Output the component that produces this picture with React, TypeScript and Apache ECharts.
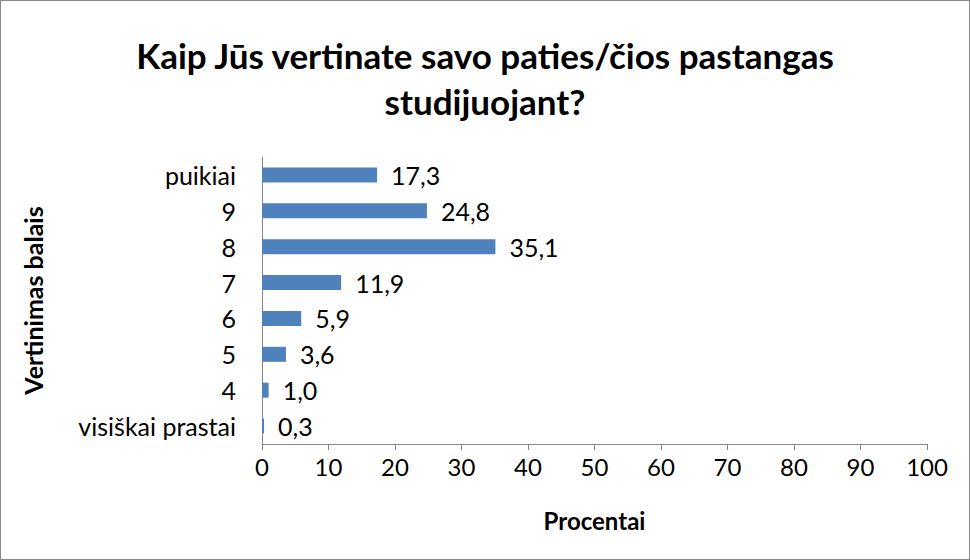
import React, { useEffect, useRef } from "react";
import * as echarts from "echarts";

const categories = ["visiškai prastai", "4", "5", "6", "7", "8", "9", "puikiai"];
const values = [0.3, 1.0, 3.6, 5.9, 11.9, 35.1, 24.8, 17.3];
const xTicks = { min: 0, max: 100, interval: 10 };

const FONT = "Lato, 'Open Sans', sans-serif";

export default function App() {
  const ref = useRef<HTMLDivElement>(null);
  useEffect(() => {
    if (!ref.current) return;
    const chart = echarts.init(ref.current, undefined, { renderer: "svg" });
    chart.setOption({
      animation: false,
      backgroundColor: "#ffffff",
      title: {
        text: "Kaip Jūs vertinate savo paties/čios pastangas\nstudijuojant?",
        left: "center",
        top: 26,
        textStyle: { fontFamily: FONT, fontSize: 35, fontWeight: "bold", color: "#000", lineHeight: 46 },
      },
      grid: { left: 261, right: 42, top: 156, bottom: 115, containLabel: false },
      xAxis: {
        type: "value",
        min: xTicks.min,
        max: xTicks.max,
        interval: xTicks.interval,
        name: "Procentai",
        nameLocation: "middle",
        nameGap: 64,
        nameTextStyle: { fontFamily: FONT, fontSize: 24, fontWeight: "bold", color: "#000" },
        axisLine: { show: true, lineStyle: { color: "#868686", width: 1 } },
        axisTick: { show: true, length: 6, lineStyle: { color: "#868686" } },
        axisLabel: { fontFamily: FONT, fontSize: 24, color: "#000", margin: 10 },
        splitLine: { show: false },
      },
      yAxis: {
        type: "category",
        data: categories,
        name: "Vertinimas balais",
        nameLocation: "middle",
        nameGap: 217,
        nameRotate: 90,
        nameTextStyle: { fontFamily: FONT, fontSize: 25, fontWeight: "bold", color: "#000" },
        axisLine: { show: true, lineStyle: { color: "#868686", width: 1 } },
        axisTick: { show: false },
        axisLabel: { fontFamily: FONT, fontSize: 25, color: "#000", margin: 26 },
      },
      series: [
        {
          type: "bar",
          data: values,
          barWidth: 15,
          itemStyle: { color: "#4F81BD" },
          label: {
            show: true,
            position: "right",
            distance: 14,
            fontFamily: FONT,
            fontSize: 25,
            color: "#000",
            formatter: (p: any) => Number(p.value).toFixed(1).replace(".", ","),
          },
        },
      ],
    });
    return () => chart.dispose();
  }, []);
  return (
    <div
      ref={ref}
      style={{
        position: "fixed",
        left: 0,
        top: 0,
        width: 970,
        height: 560,
        boxSizing: "border-box",
        border: "1px solid #898989",
      }}
    />
  );
}
